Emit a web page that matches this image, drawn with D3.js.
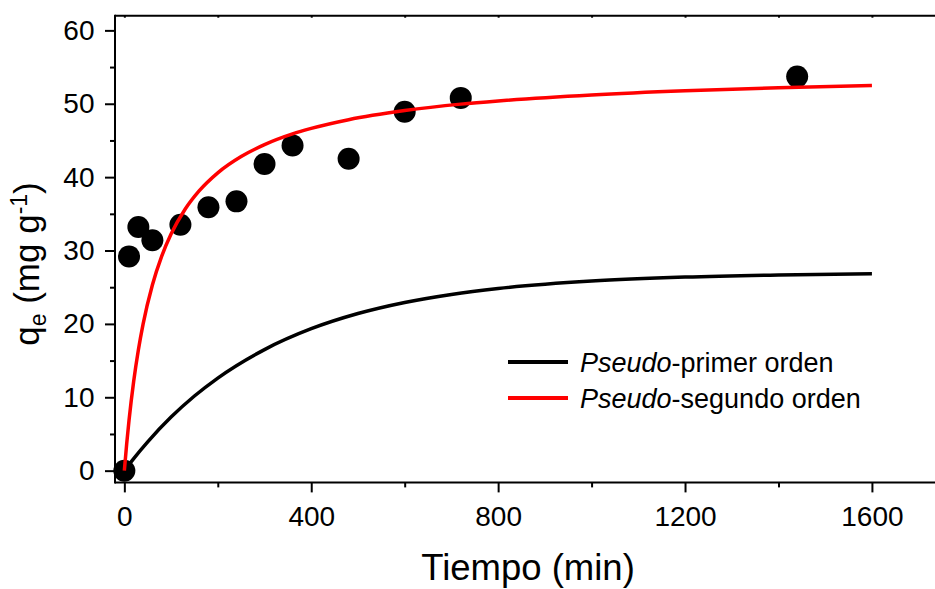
<!DOCTYPE html>
<html>
<head>
<meta charset="utf-8">
<script src="https://cdn.jsdelivr.net/npm/d3@7"></script>
<style>
  html, body { margin: 0; padding: 0; background: #fff; }
  svg { display: block; }
  text { font-family: "Liberation Sans", Arial, Helvetica, sans-serif; fill: #000; }
</style>
</head>
<body>
<svg id="chart" width="935" height="589"></svg>
<script>
// Experimental adsorption capacity over time
const expTime = [0, 10, 30, 60, 120, 180, 240, 300, 360, 480, 600, 720, 1440];
const expQe   = [0, 29.2, 33.2, 31.4, 33.5, 35.9, 36.7, 41.8, 44.3, 42.5, 48.9, 50.8, 53.7];

// Pseudo-first-order model curve
const pfoTime = [0, 20, 50, 100, 150, 200, 300, 400, 500, 600, 700, 800, 1000, 1200, 1400, 1600];
const pfoQe   = [0, 1.65, 3.93, 7.30, 10.17, 12.62, 16.50, 19.34, 21.41, 22.92, 24.02, 24.83, 25.84, 26.38, 26.67, 26.82];

// Pseudo-second-order model curve
const psoTime = [0, 5, 10, 20, 30, 40, 60, 80, 100, 130, 160, 200, 250, 300, 360, 400, 480, 600, 720, 800, 1000, 1200, 1400, 1600];
const psoQe   = [0, 3.65, 6.85, 12.18, 16.44, 19.93, 25.29, 29.23, 32.24, 35.62, 38.12, 40.59, 42.81, 44.43, 45.89, 46.64, 47.83, 49.07, 49.95, 50.39, 51.21, 51.78, 52.19, 52.50];

// Axis ticks
const xMajor = [0, 400, 800, 1200, 1600];
const xMinor = [200, 600, 1000, 1400];
const yMajor = [0, 10, 20, 30, 40, 50, 60];
const yMinor = [5, 15, 25, 35, 45, 55];

const legendLabels = [
  { italic: "Pseudo", rest: "-primer orden", color: "#000000" },
  { italic: "Pseudo", rest: "-segundo orden", color: "#ff0000" }
];

const svg = d3.select("#chart");

const x = d3.scaleLinear().domain([-20, 1735]).range([115, 935]);
const y = d3.scaleLinear().domain([-1.6, 62]).range([482.4, 15.7]);

const plotLeft = x.range()[0], plotRight = x.range()[1];
const plotTop = y.range()[1], plotBottom = y.range()[0];

// Scatter points
svg.append("g")
  .selectAll("circle")
  .data(expTime.map((t, i) => [t, expQe[i]]))
  .join("circle")
  .attr("cx", d => x(d[0]))
  .attr("cy", d => y(d[1]))
  .attr("r", 11)
  .attr("fill", "#000");

// Model curves
const line = d3.line()
  .x(d => x(d[0]))
  .y(d => y(d[1]))
  .curve(d3.curveMonotoneX);

svg.append("path")
  .datum(pfoTime.map((t, i) => [t, pfoQe[i]]))
  .attr("d", line)
  .attr("fill", "none")
  .attr("stroke", "#000")
  .attr("stroke-width", 3.5);

svg.append("path")
  .datum(psoTime.map((t, i) => [t, psoQe[i]]))
  .attr("d", line)
  .attr("fill", "none")
  .attr("stroke", "#ff0000")
  .attr("stroke-width", 3.5);

// Axes
function styleAxis(g) {
  g.selectAll(".domain").remove();
  g.selectAll(".tick line").attr("stroke", "#000").attr("stroke-width", 2);
  g.selectAll(".tick text")
    .style("font-family", '"Liberation Sans", Arial, sans-serif')
    .style("font-size", "28px")
    .attr("fill", "#000");
}

// bottom axis
svg.append("g")
  .attr("transform", `translate(0,${plotBottom})`)
  .call(d3.axisBottom(x).tickValues(xMajor).tickSize(10).tickPadding(14).tickFormat(d3.format("d")))
  .call(styleAxis);
svg.append("g")
  .attr("transform", `translate(0,${plotBottom})`)
  .call(d3.axisBottom(x).tickValues(xMinor).tickSize(5).tickFormat(""))
  .call(styleAxis);

// top axis (small ticks only)
svg.append("g")
  .attr("transform", `translate(0,${plotTop})`)
  .call(d3.axisBottom(x).tickValues(xMajor.concat(xMinor)).tickSize(2).tickFormat(""))
  .call(styleAxis);

// left axis
svg.append("g")
  .attr("transform", `translate(${plotLeft},0)`)
  .call(d3.axisLeft(y).tickValues(yMajor).tickSize(10).tickPadding(10.5).tickFormat(d3.format("d")))
  .call(styleAxis);
svg.append("g")
  .attr("transform", `translate(${plotLeft},0)`)
  .call(d3.axisLeft(y).tickValues(yMinor).tickSize(5).tickFormat(""))
  .call(styleAxis);

// frame lines
svg.append("line").attr("x1", plotLeft).attr("x2", plotRight).attr("y1", plotBottom).attr("y2", plotBottom)
  .attr("stroke", "#000").attr("stroke-width", 2);
svg.append("line").attr("x1", plotLeft).attr("x2", plotRight).attr("y1", plotTop).attr("y2", plotTop)
  .attr("stroke", "#000").attr("stroke-width", 2);
svg.append("line").attr("x1", plotLeft).attr("x2", plotLeft).attr("y1", plotTop - 1).attr("y2", plotBottom + 1)
  .attr("stroke", "#000").attr("stroke-width", 2);

// Axis titles
svg.append("text")
  .attr("x", 528)
  .attr("y", 580)
  .attr("text-anchor", "middle")
  .style("font-size", "36.5px")
  .text("Tiempo (min)");

const yTitle = svg.append("text")
  .attr("transform", "translate(39,264) rotate(-90)")
  .attr("text-anchor", "middle")
  .style("font-size", "35px");
yTitle.append("tspan").text("q");
yTitle.append("tspan").attr("dy", 7).style("font-size", "23px").text("e");
yTitle.append("tspan").attr("dy", -7).text(" (mg g");
yTitle.append("tspan").attr("dy", -12).style("font-size", "23px").text("-1");
yTitle.append("tspan").attr("dy", 12).text(")");

// Legend
const legend = svg.append("g");
legendLabels.forEach((d, i) => {
  const ly = 362 + i * 36;
  legend.append("line")
    .attr("x1", 508).attr("x2", 568)
    .attr("y1", ly).attr("y2", ly)
    .attr("stroke", d.color).attr("stroke-width", 4);
  const t = legend.append("text")
    .attr("x", 580).attr("y", ly + 10)
    .style("font-size", "27px");
  t.append("tspan").style("font-style", "italic").text(d.italic);
  t.append("tspan").text(d.rest);
});
</script>
</body>
</html>
